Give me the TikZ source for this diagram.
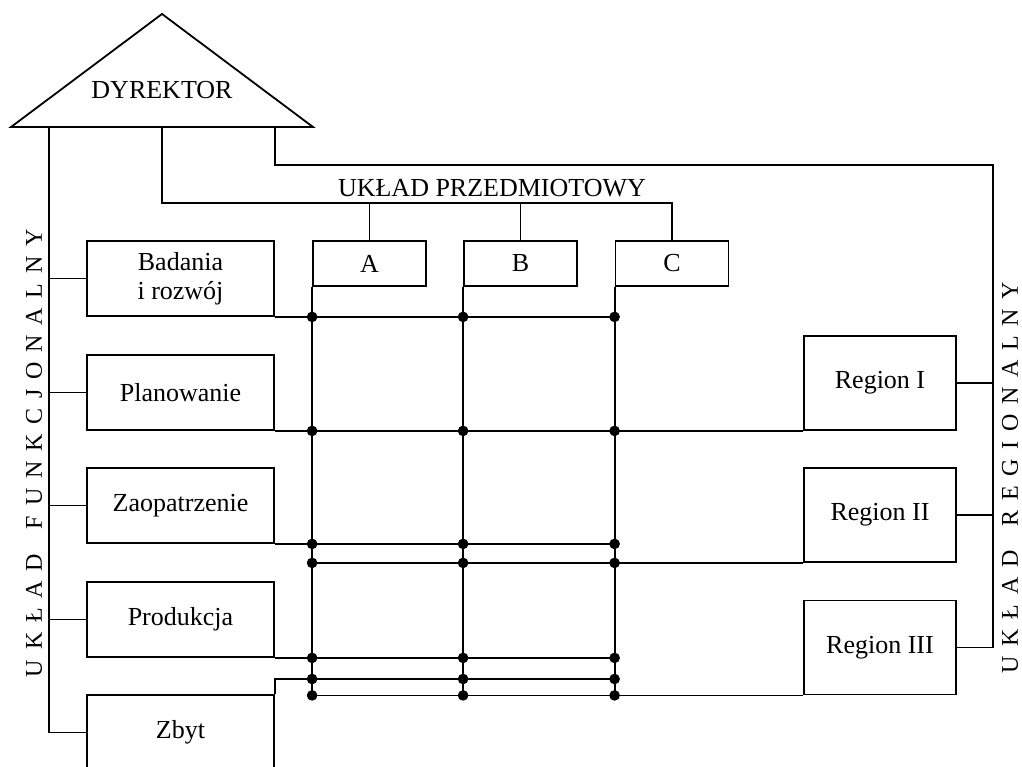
\documentclass[tikz,border=0pt]{standalone}
\usepackage{fontspec}
\setmainfont{Liberation Serif}
\newcommand\labfont{\fontsize{19.5}{22.5}\selectfont}
\newcommand\sidefont{\fontsize{18}{20}\selectfont}
% spaced-out vertical caption: letters spread over a fixed length
\newcommand\spread[2]{\makebox[#1][s]{#2}}
\newcommand\gap{\hfil}
\newcommand\wgap{\hskip 0pt plus 2.5fil}
\begin{document}
\begin{tikzpicture}[x=0.75pt, y=-0.75pt, line width=1.35pt,
  every node/.style={font=\labfont, inner sep=0pt},
  fbox/.style={draw, minimum width=140.25pt, minimum height=56.25pt, align=center},
  obox/.style={draw, minimum width=84.75pt, minimum height=33.75pt},
  rbox/.style={draw, minimum width=114pt, minimum height=70.5pt},
  joint/.style={fill, line width=0pt}]
\useasboundingbox (0,0) rectangle (1022,767);

% director
\coordinate (apex) at (162,14);
\coordinate (tl) at (11,127);
\coordinate (tr) at (313,127);
\draw[line join=miter] (tl) -- (apex) -- (tr) -- cycle;
\node (dyr) at (162,90) {DYREKTOR};
\coordinate (fun) at (49,127);
\coordinate (prz) at (162,127);
\coordinate (reg) at (275,127);

% functional departments
\node[fbox] (bad)  at (180.5,278.5) {Badania\\[-1pt]i rozwój};
\node[fbox] (plan) at (180.5,392.5) {Planowanie};
\node[fbox] (zao)  at (180.5,505.5) {Zaopatrzenie};
\node[fbox] (prod) at (180.5,619.5) {Produkcja};
\node[fbox] (zbyt) at (180.5,732.5) {Zbyt};

% product units
\node[obox] (A) at (369.5,263.5) {A};
\node[obox] (B) at (520.5,263.5) {B};
\node[obox] (C) at (672,263.5) {C};

% regions
\node[rbox] (r1) at (880,383) {Region I};
\node[rbox] (r2) at (880,515) {Region II};
\node[rbox] (r3) at (880,647.5) {Region III};

% captions
\node (prztxt) at (492,188) {UKŁAD PRZEDMIOTOWY};
\node[rotate=90, font=\sidefont] (funtxt) at (34,453)
  {\spread{336pt}{U\gap K\gap Ł\gap A\gap D\wgap F\gap U\gap N\gap K\gap C\gap J\gap O\gap N\gap A\gap L\gap N\gap Y}};
\node[rotate=90, font=\sidefont] (regtxt) at (1010,477.5)
  {\spread{293.25pt}{U\gap K\gap Ł\gap A\gap D\wgap R\gap E\gap G\gap I\gap O\gap N\gap A\gap L\gap N\gap Y}};

% functional line
\draw (fun) |- (zbyt.west);
\foreach \n in {bad,plan,zao,prod} \draw (fun |- \n.west) -- (\n.west);

% product line
\coordinate (busend) at (672,203);
\draw (prz) |- (busend) -- (C.north);
\draw (A.north |- busend) -- (A.north);
\draw (B.north |- busend) -- (B.north);

% regional line
\coordinate (rtop) at (993,165);
\draw (reg) |- (rtop) |- (r3.east);
\draw (rtop |- r1.east) -- (r1.east);
\draw (rtop |- r2.east) -- (r2.east);

% matrix grid
\coordinate (h6) at (0,679);
\foreach \c in {A,B,C} \draw (\c.south west) -- (\c.south west |- r3.south west);
\draw (bad.south east) -- (C.south west |- bad.south east);
\draw (plan.south east) -- (r1.south west);
\draw (zao.south east) -- (C.south west |- zao.south east);
\draw (A.south west |- r2.south west) -- (r2.south west);
\draw (prod.south east) -- (C.south west |- prod.south east);
\draw (zbyt.north east) |- (C.south west |- h6);
\draw (A.south west |- r3.south west) -- (r3.south west);

% junction dots
\foreach \c in {A,B,C}
  \foreach \r in {bad.south east, plan.south east, zao.south east, r2.south west, prod.south east, h6, r3.south west}
    \fill[joint] (\c.south west |- \r) circle (4pt);
\end{tikzpicture}
\end{document}
